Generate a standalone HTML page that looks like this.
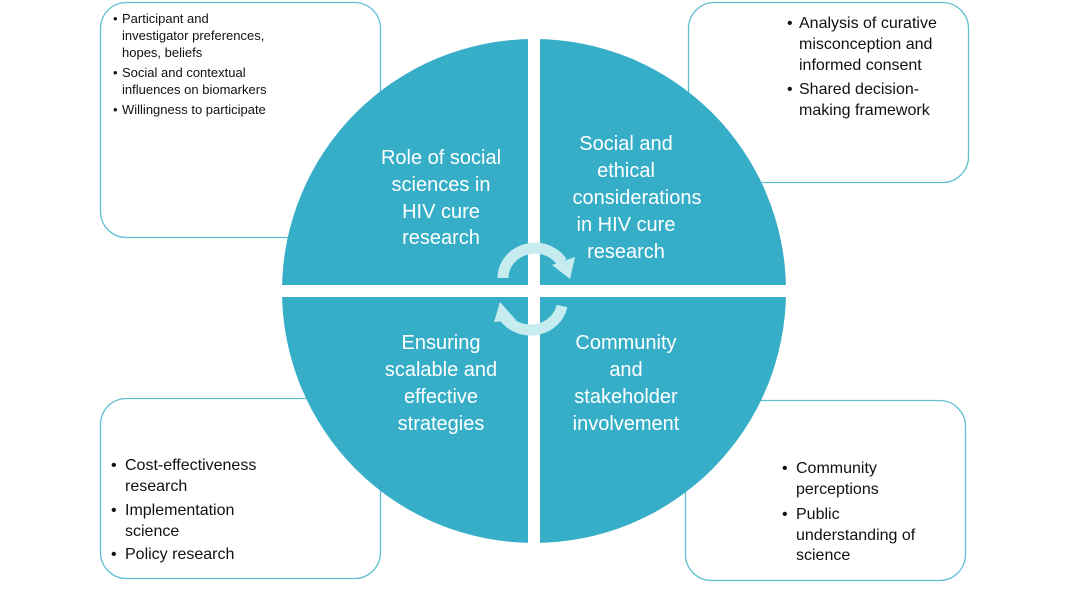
<!DOCTYPE html>
<html><head><meta charset="utf-8"><style>
html,body{margin:0;padding:0;background:#fff;}
svg{display:block;font-family:"Liberation Sans",Calibri,sans-serif;}
</style></head><body>
<svg width="1067" height="600" viewBox="0 0 1067 600" xmlns="http://www.w3.org/2000/svg">
<g fill="#fff" stroke="#5fc0d0" stroke-width="1.3">
<rect x="100.5" y="2.5" width="280" height="235" rx="26"/>
<rect x="688.5" y="2.5" width="280" height="180" rx="26"/>
<rect x="100.5" y="398.5" width="280" height="180" rx="26"/>
<rect x="685.5" y="400.5" width="280" height="180" rx="26"/>
</g>
<g font-size="13" fill="#111">
<text x="113" y="23">•</text>
<text x="122" y="23">Participant and</text>
<text x="122" y="40">investigator preferences,</text>
<text x="122" y="57">hopes, beliefs</text>
<text x="113" y="77">•</text>
<text x="122" y="77">Social and contextual</text>
<text x="122" y="94">influences on biomarkers</text>
<text x="113" y="114">•</text>
<text x="122" y="114">Willingness to participate</text>
</g>
<g font-size="16" fill="#111">
<text x="787" y="28">•</text>
<text x="799" y="28">Analysis of curative</text>
<text x="799" y="49">misconception and</text>
<text x="799" y="70">informed consent</text>
<text x="787" y="94">•</text>
<text x="799" y="94">Shared decision-</text>
<text x="799" y="115">making framework</text>
<text x="111" y="470">•</text>
<text x="125" y="470">Cost-effectiveness</text>
<text x="125" y="491">research</text>
<text x="111" y="515">•</text>
<text x="125" y="515">Implementation</text>
<text x="125" y="536">science</text>
<text x="111" y="559">•</text>
<text x="125" y="559">Policy research</text>
<text x="782" y="473">•</text>
<text x="796" y="473">Community</text>
<text x="796" y="494">perceptions</text>
<text x="782" y="519">•</text>
<text x="796" y="519">Public</text>
<text x="796" y="540">understanding of</text>
<text x="796" y="560">science</text>
</g>
<circle cx="534" cy="291" r="252" fill="#36aec8"/>
<rect x="528" y="30" width="12" height="520" fill="#fff"/>
<rect x="270" y="285" width="530" height="12" fill="#fff"/>
<g font-size="20" fill="#fff" text-anchor="middle">
<text x="441" y="164">Role of social</text>
<text x="441" y="191">sciences in</text>
<text x="441" y="218">HIV cure</text>
<text x="441" y="244">research</text>
<text x="626" y="150">Social and</text>
<text x="626" y="177">ethical</text>
<text x="637" y="204">considerations</text>
<text x="626" y="231">in HIV cure</text>
<text x="626" y="258">research</text>
<text x="441" y="349">Ensuring</text>
<text x="441" y="376">scalable and</text>
<text x="441" y="403">effective</text>
<text x="441" y="430">strategies</text>
<text x="626" y="349">Community</text>
<text x="626" y="376">and</text>
<text x="626" y="403">stakeholder</text>
<text x="626" y="430">involvement</text>
</g>
<g fill="none" stroke="#c6ecef" stroke-width="11">
<path d="M503 278 A32 30 0 0 1 562 262"/>
<path d="M562 306 A32 30 0 0 1 505 318"/>
</g>
<g fill="#c6ecef">
<polygon points="552,265 575,257 570,279"/>
<polygon points="516,320 494,322 500,302"/>
</g>
</svg>
</body></html>
